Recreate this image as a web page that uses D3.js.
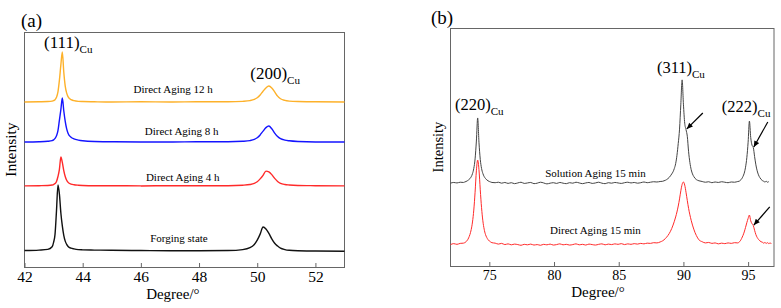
<!DOCTYPE html>
<html><head><meta charset="utf-8">
<script src="https://cdn.jsdelivr.net/npm/d3@7"></script>
<style>
body{margin:0;background:#fff}
svg{display:block}
text{font-family:"Liberation Serif","Times New Roman",serif;fill:#000}
</style>
</head><body>
<svg id="c" width="781" height="308"></svg>
<script>
// ---------- Panel (a) data ----------
const degA = [42.0, 42.5, 42.8, 42.95, 43.0, 43.05, 43.1, 43.15, 43.2, 43.25,
  43.3, 43.35, 43.4, 43.45, 43.5, 43.6, 43.7, 43.85, 44.0, 44.4,
  45.0, 46.0, 47.0, 48.0, 49.0, 49.5, 49.75, 49.9, 50.0, 50.1,
  50.2, 50.3, 50.4, 50.5, 50.6, 50.7, 50.8, 50.95, 51.1, 51.4,
  52.0, 53.0];
const aging12h = [70.2, 70.3, 70.4, 70.6, 70.8, 71.2, 72.2, 74.5, 79.5, 86.0,
  91.5, 83.0, 77.0, 74.0, 72.4, 71.2, 70.8, 70.5, 70.4, 70.3,
  70.2, 70.3, 70.2, 70.3, 70.3, 70.5, 70.8, 71.3, 72.0, 73.2,
  74.8, 76.2, 77.0, 76.2, 74.5, 72.7, 71.6, 70.9, 70.6, 70.4,
  70.3, 70.2];
const aging8h = [53.2, 53.3, 53.5, 53.8, 54.1, 54.7, 55.8, 58.0, 62.5, 67.0,
  71.9, 66.5, 62.0, 58.8, 56.8, 55.2, 54.5, 54.0, 53.7, 53.4,
  53.3, 53.2, 53.2, 53.3, 53.3, 53.5, 53.8, 54.3, 55.0, 56.2,
  57.8, 59.3, 60.0, 58.8, 57.0, 55.5, 54.6, 54.0, 53.7, 53.4,
  53.2, 53.2];
const aging4h = [34.5, 34.6, 34.7, 34.9, 35.1, 35.5, 36.4, 38.5, 41.5, 46.8,
  44.5, 41.0, 38.5, 36.9, 36.0, 35.3, 35.0, 34.8, 34.7, 34.6,
  34.6, 34.5, 34.6, 34.6, 34.6, 34.8, 35.1, 35.6, 36.3, 37.5,
  39.0, 40.8, 40.5, 39.3, 37.7, 36.4, 35.6, 35.1, 34.9, 34.7,
  34.6, 34.5];
const forging = [7.0, 7.2, 7.5, 8.6, 10.5, 14.0, 24.0, 34.9, 31.0, 23.0,
  17.5, 13.5, 11.0, 9.6, 8.7, 8.0, 7.7, 7.4, 7.3, 7.2,
  7.1, 7.0, 6.9, 6.9, 7.0, 7.4, 8.2, 9.6, 11.4, 14.0,
  17.0, 16.2, 14.3, 12.0, 10.1, 8.9, 8.0, 7.4, 7.1, 6.9,
  6.8, 6.7];
const seriesNamesA = ["Direct Aging 12 h", "Direct Aging 8 h", "Direct Aging 4 h", "Forging state"];
const ticksA = [42, 44, 46, 48, 50, 52];
const peaksA = [["(111)", "Cu"], ["(200)", "Cu"]];

// ---------- Panel (b) data ([degree, intensity]) ----------
const solutionAging15 = [
  [72.0,34.8],[72.25,35.1],[72.5,34.9],[72.75,35.2],[73.0,35.1],
  [73.1,35.3],[73.2,35.5],[73.3,35.8],[73.4,36.2],[73.5,36.7],[73.6,37.5],[73.7,38.8],[73.8,41.0],[73.9,45.0],[74.0,52.5],
  [74.1,62.2],[74.2,52.0],[74.3,44.8],[74.4,41.0],[74.5,38.9],[74.6,37.6],[74.7,36.8],[74.8,36.2],[74.9,35.8],[75.0,35.5],[75.1,35.3],[75.2,35.1],
  [75.45,35.0],[75.7,35.2],[75.95,34.8],[76.2,35.1],[76.45,34.7],[76.7,35.0],[76.95,34.6],[77.2,34.9],[77.45,35.2],[77.7,34.7],
  [77.95,34.9],[78.2,35.1],[78.45,34.6],[78.7,34.8],[78.95,35.2],[79.2,34.9],[79.45,34.5],[79.7,34.8],[79.95,35.0],[80.2,34.7],
  [80.45,35.1],[80.7,34.8],[80.95,34.6],[81.2,35.0],[81.45,34.8],[81.7,35.2],[81.95,34.9],[82.2,34.6],[82.45,34.9],[82.7,35.1],
  [82.95,34.7],[83.2,34.9],[83.45,35.2],[83.7,34.8],[83.95,34.6],[84.2,35.0],[84.45,34.8],[84.7,35.1],[84.95,34.9],[85.2,34.7],
  [85.45,35.0],[85.7,35.2],[85.95,34.9],[86.2,35.1],[86.45,34.8],[86.7,35.0],[86.95,35.3],[87.2,35.0],[87.45,35.2],[87.7,35.4],
  [87.95,35.3],[88.2,35.5],
  [88.4,35.6],[88.5,35.8],[88.6,36.0],[88.7,36.3],[88.8,36.7],[88.9,37.2],[89.0,37.9],[89.1,38.7],[89.2,39.6],[89.3,41.0],
  [89.4,43.0],[89.5,46.5],[89.6,51.5],[89.7,57.5],[89.8,68.0],[89.9,78.2],[90.0,68.0],[90.1,60.0],[90.2,57.3],[90.3,54.5],
  [90.4,48.0],[90.5,43.5],[90.6,40.5],[90.7,38.7],[90.8,37.6],[90.9,36.8],[91.0,36.3],[91.1,36.0],[91.2,35.8],
  [91.45,35.5],[91.7,35.2],[91.95,35.4],[92.2,35.0],[92.45,35.3],[92.7,35.1],[92.95,35.4],[93.2,35.2],[93.45,35.0],[93.7,35.3],
  [93.95,35.2],[94.2,35.5],
  [94.3,35.6],[94.4,36.0],[94.5,36.6],[94.6,37.6],[94.7,39.0],[94.8,41.5],[94.9,45.5],[95.0,52.0],[95.1,60.9],[95.2,54.0],
  [95.3,50.8],[95.4,49.8],[95.5,46.0],[95.6,42.5],[95.7,40.0],[95.8,38.3],[95.9,37.2],[96.0,36.4],[96.1,35.9],[96.2,35.6],
  [96.3,35.3],[96.4,35.6],[96.5,35.2],[96.6,35.5]
];
const directAging15 = [
  [72.0,9.0],[72.25,9.4],[72.5,9.1],[72.75,9.5],[73.0,9.6],
  [73.1,9.8],[73.2,10.2],[73.3,10.8],[73.4,11.8],[73.5,13.2],[73.6,15.3],[73.7,18.5],[73.8,23.5],[73.9,31.0],[74.0,40.0],
  [74.1,44.5],[74.2,40.5],[74.3,32.0],[74.4,24.5],[74.5,19.0],[74.6,15.5],[74.7,13.3],[74.8,12.0],[74.9,11.1],[75.0,10.5],[75.1,10.1],[75.2,9.8],
  [75.45,9.6],[75.7,9.2],[75.95,9.5],[76.2,9.0],[76.45,9.3],[76.7,8.9],[76.95,9.2],[77.2,9.0],[77.45,8.7],[77.7,9.1],
  [77.95,8.9],[78.2,9.2],[78.45,8.8],[78.7,9.0],[78.95,8.7],[79.2,9.1],[79.45,8.9],[79.7,9.2],[79.95,8.8],[80.2,9.0],
  [80.45,9.3],[80.7,8.9],[80.95,9.1],[81.2,8.8],[81.45,9.0],[81.7,9.3],[81.95,8.9],[82.2,9.1],[82.45,8.8],[82.7,9.2],
  [82.95,9.0],[83.2,8.8],[83.45,9.1],[83.7,9.3],[83.95,8.9],[84.2,9.2],[84.45,9.0],[84.7,9.3],[84.95,9.1],[85.2,9.4],
  [85.45,9.0],[85.7,9.3],[85.95,9.1],[86.2,9.4],[86.45,9.2],[86.7,9.5],[86.95,9.3],[87.2,9.6],[87.45,9.5],[87.7,9.8],
  [87.95,9.7],[88.2,10.1],
  [88.4,10.6],[88.5,11.0],[88.6,11.5],[88.7,12.1],[88.8,12.8],[88.9,13.6],[89.0,14.6],[89.1,15.8],[89.2,17.2],[89.3,18.8],
  [89.4,20.6],[89.5,22.7],[89.6,25.2],[89.7,28.2],[89.8,31.6],[89.9,34.3],[90.0,35.3],[90.1,34.0],[90.2,31.0],[90.3,27.5],
  [90.4,24.2],[90.5,21.5],[90.6,19.2],[90.7,17.2],[90.8,15.5],[90.9,14.0],[91.0,12.8],[91.1,11.8],[91.2,11.0],
  [91.45,10.2],[91.7,9.7],[91.95,9.9],[92.2,9.5],[92.45,9.7],[92.7,9.3],[92.95,9.6],[93.2,9.4],[93.45,9.7],[93.7,9.5],
  [93.95,9.8],[94.2,9.7],
  [94.3,10.0],[94.4,10.6],[94.5,11.6],[94.6,12.8],[94.7,14.3],[94.8,16.2],[94.9,18.2],[95.0,20.0],[95.1,21.4],[95.2,19.0],
  [95.3,17.8],[95.4,17.0],[95.5,15.0],[95.6,13.2],[95.7,12.0],[95.8,11.2],[95.9,10.6],[96.0,10.2],[96.1,10.0],[96.2,9.6],
  [96.3,9.9],[96.4,9.5],[96.5,9.8],[96.6,9.4],[96.7,9.7],[96.8,9.3]
];
const seriesNamesB = ["Solution Aging 15 min", "Direct Aging 15 min"];
const ticksB = [75, 80, 85, 90, 95];
const peaksB = [["(220)", "Cu"], ["(311)", "Cu"], ["(222)", "Cu"]];

// ---------- Drawing ----------
const svg = d3.select("#c");
const frameColor = "#666";
const serif = '"Liberation Serif","Times New Roman",serif';

svg.append("defs").append("marker")
  .attr("id", "arr").attr("viewBox", "0 0 10 10")
  .attr("refX", 10).attr("refY", 5)
  .attr("markerWidth", 7).attr("markerHeight", 6)
  .attr("markerUnits", "userSpaceOnUse").attr("orient", "auto")
  .append("path").attr("d", "M0,0.5L10,5L0,9.5Z").attr("fill", "#000");

function frame(x, y) {
  const [x0, x1] = x.range(), [y0, y1] = y.range();
  svg.append("rect")
    .attr("x", x0).attr("y", y1 + 0.5)
    .attr("width", x1 - x0).attr("height", y0 - y1)
    .attr("fill", "none").attr("stroke", frameColor).attr("stroke-width", 1);
}

function bottomAxis(x, y, ticks, fontSize) {
  const g = svg.append("g").attr("transform", `translate(0,${y.range()[0]})`)
    .call(d3.axisBottom(x).tickValues(ticks).tickSizeInner(-4).tickSizeOuter(0).tickPadding(4));
  g.attr("font-family", serif);
  g.select(".domain").remove();
  g.selectAll(".tick line").attr("stroke", frameColor);
  g.selectAll(".tick text").attr("fill", "#000")
    .style("font-family", serif)
    .style("font-size", fontSize + "px");
}

function peakLabel(x, y, deg, val, pair, size) {
  const t = svg.append("text").attr("x", x(deg)).attr("y", y(val)).style("font-size", size + "px");
  t.append("tspan").text(pair[0]);
  t.append("tspan").attr("dy", 5).style("font-size", "11px").text(pair[1]);
}

function midLabel(x, y, deg, val, txt) {
  svg.append("text").attr("x", x(deg)).attr("y", y(val))
    .attr("text-anchor", "middle").style("font-size", "11px").text(txt);
}

function arrow(x, y, d0, v0, d1, v1) {
  svg.append("line")
    .attr("x1", x(d0)).attr("y1", y(v0)).attr("x2", x(d1)).attr("y2", y(v1))
    .attr("stroke", "#000").attr("stroke-width", 1.2).attr("marker-end", "url(#arr)");
}

// Panel (a)
const xA = d3.scaleLinear().domain([42, 53]).range([24.5, 344.5]);
const yA = d3.scaleLinear().domain([0, 100]).range([267, 32]);
frame(xA, yA);
bottomAxis(xA, yA, ticksA, 15.5);
const lineA = d3.line().x(d => xA(d[0])).y(d => yA(d[1])).curve(d3.curveMonotoneX);
const colorsA = ["#FDB12A", "#1414FF", "#FF2A2A", "#111111"];
[aging12h, aging8h, aging4h, forging].forEach((vals, i) => {
  svg.append("path").datum(degA.map((d, j) => [d, vals[j]]))
    .attr("d", lineA).attr("fill", "none").attr("stroke", colorsA[i]).attr("stroke-width", 1.4);
});
midLabel(xA, yA, 47.11, 73.9, seriesNamesA[0]);
midLabel(xA, yA, 47.40, 56.2, seriesNamesA[1]);
midLabel(xA, yA, 47.44, 36.4, seriesNamesA[2]);
midLabel(xA, yA, 47.31, 10.7, seriesNamesA[3]);
peakLabel(xA, yA, 42.67, 93.2, peaksA[0], 17);
peakLabel(xA, yA, 49.76, 80.0, peaksA[1], 17);
svg.append("text").attr("x", xA(47.1)).attr("y", 299).attr("text-anchor", "middle")
  .style("font-size", "15px").text("Degree/°");
svg.append("text").attr("transform", `translate(16,${yA(50)}) rotate(-90)`)
  .attr("text-anchor", "middle").style("font-size", "15.5px").text("Intensity");
svg.append("text").attr("x", 21).attr("y", 27).style("font-size", "19px").text("(a)");

// Panel (b)
const xB = d3.scaleLinear().domain([72, 97]).range([450.5, 774]);
const yB = d3.scaleLinear().domain([0, 100]).range([266, 28]);
frame(xB, yB);
bottomAxis(xB, yB, ticksB, 14);
const lineB = d3.line().x(d => xB(d[0])).y(d => yB(d[1])).curve(d3.curveMonotoneX);
svg.append("path").datum(solutionAging15).attr("d", lineB)
  .attr("fill", "none").attr("stroke", "#444").attr("stroke-width", 1);
svg.append("path").datum(directAging15).attr("d", lineB)
  .attr("fill", "none").attr("stroke", "#FF2A2A").attr("stroke-width", 1);
midLabel(xB, yB, 83.2, 37.4, seriesNamesB[0]);
midLabel(xB, yB, 83.2, 13.4, seriesNamesB[1]);
peakLabel(xB, yB, 72.35, 65.5, peaksB[0], 16.5);
peakLabel(xB, yB, 87.95, 81.1, peaksB[1], 16.5);
peakLabel(xB, yB, 92.97, 64.7, peaksB[2], 16.5);
arrow(xB, yB, 91.5, 64.3, 90.26, 57.6);
arrow(xB, yB, 96.52, 60.5, 95.44, 50.0);
arrow(xB, yB, 96.67, 24.8, 95.44, 17.2);
svg.append("text").attr("x", xB(83.4)).attr("y", 297).attr("text-anchor", "middle")
  .style("font-size", "15px").text("Degree/°");
svg.append("text").attr("transform", `translate(443,${yB(50)}) rotate(-90)`)
  .attr("text-anchor", "middle").style("font-size", "14.5px").text("Intensity");
svg.append("text").attr("x", 431).attr("y", 24).style("font-size", "19px").text("(b)");
</script>
</body></html>
